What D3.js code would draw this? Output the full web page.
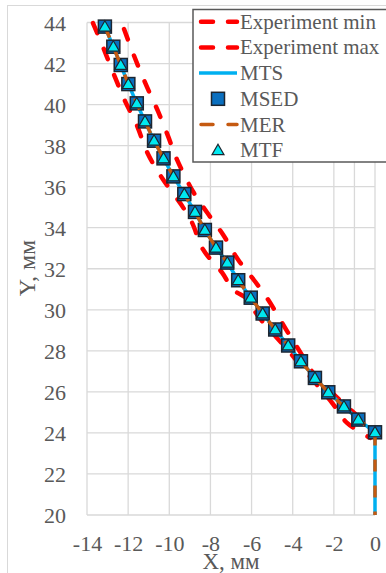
<!DOCTYPE html>
<html>
<head>
<meta charset="utf-8">
<script src="https://cdn.jsdelivr.net/npm/d3@7"></script>
<style>
  body { margin: 0; background: #fff; }
  svg text { font-family: "Liberation Serif", "DejaVu Serif", serif; fill: #595959; }
</style>
</head>
<body>
<div id="chart"></div>
<script>
// data
var xTicks = [-14, -12, -10, -8, -6, -4, -2, 0];
var yTicks = [20, 22, 24, 26, 28, 30, 32, 34, 36, 38, 40, 42, 44];

var expMinX = [-13.71, -13.22, -12.64, -12.15, -11.62, -11.03, -10.31, -9.43, -8.90, -8.36, -7.44, -6.90, -6.17, -5.74, -4.13, -3.65, -2.09, -1.36, -0.24];
var expMinY = [43.97, 42.80, 41.34, 40.17, 39.10, 37.58, 36.36, 35.14, 34.26, 32.94, 31.82, 30.99, 30.50, 29.77, 27.91, 27.32, 25.47, 24.49, 23.76];

var expMaxX = [-12.20, -11.67, -11.08, -10.55, -10.06, -9.63, -8.85, -8.17, -7.39, -6.66, -5.83, -5.20, -4.23, -3.65, -3.01, -2.14, -1.41, -0.68, 0];
var expMaxY = [43.68, 42.27, 40.85, 39.68, 38.46, 37.33, 35.77, 34.75, 33.67, 32.45, 31.38, 30.50, 28.89, 27.96, 26.93, 26.01, 25.32, 24.69, 24.05];

var modelX = [-13.13, -12.72, -12.36, -11.99, -11.58, -11.18, -10.74, -10.28, -9.80, -9.27, -8.75, -8.27, -7.73, -7.18, -6.65, -6.04, -5.46, -4.85, -4.22, -3.60, -2.92, -2.27, -1.51, -0.81, 0];
var modelY = [43.80, 42.82, 41.93, 41.00, 40.06, 39.18, 38.24, 37.38, 36.50, 35.64, 34.77, 33.89, 33.03, 32.30, 31.44, 30.59, 29.82, 29.04, 28.26, 27.49, 26.68, 25.98, 25.29, 24.65, 24.03];

// MTS and MER lines continue straight down to Y = 20
var lineX = modelX.concat([0]);
var lineY = modelY.concat([20]);

var legendNames = ["Experiment min", "Experiment max", "MTS", "MSED", "MER", "MTF"];

var svgWidth = 386, svgHeight = 573;
var svg = d3.select("#chart").append("svg")
  .attr("width", svgWidth)
  .attr("height", svgHeight);

// outer chart frame
svg.append("rect")
  .attr("x", 7.5).attr("y", 5.5)
  .attr("width", 400).attr("height", 600)
  .attr("fill", "none").attr("stroke", "#d9d9d9");

var x = d3.scaleLinear().domain([-14, 0]).range([87, 375]);
var y = d3.scaleLinear().domain([20, 44]).range([515, 22.5]);

// grid
var grid = svg.append("g");
grid.selectAll(".vg")
  .data(xTicks.concat([-1]))
  .enter().append("line")
  .attr("x1", d => x(d)).attr("x2", d => x(d))
  .attr("y1", y(20)).attr("y2", y(44))
  .attr("stroke", "#d9d9d9").attr("stroke-width", 1.3);
grid.selectAll(".hg")
  .data(yTicks)
  .enter().append("line")
  .attr("x1", x(-14)).attr("x2", x(0))
  .attr("y1", d => y(d)).attr("y2", d => y(d))
  .attr("stroke", "#d9d9d9").attr("stroke-width", 1.3);

// axes (labels only)
var bottomAxis = d3.axisBottom(x).tickValues(xTicks).tickSize(0).tickPadding(0)
  .tickFormat(d => d < 0 ? "-" + Math.abs(d) : d);
var leftAxis = d3.axisLeft(y).tickValues(yTicks).tickSize(0).tickPadding(0);

var gx = svg.append("g").attr("transform", "translate(0,551)").call(bottomAxis);
var gy = svg.append("g").attr("transform", "translate(66,0)").call(leftAxis);
[gx, gy].forEach(function (g) {
  g.select(".domain").remove();
  g.selectAll("text")
    .attr("font-family", "Liberation Serif")
    .attr("font-size", 22)
    .attr("fill", "#595959");
});
gx.selectAll("text").attr("dy", "0").attr("y", 0);
gy.selectAll("text").attr("dy", "0.35em");

// axis titles
svg.append("text")
  .attr("x", 231).attr("y", 569)
  .attr("text-anchor", "middle")
  .attr("font-size", 23)
  .text("X, мм");
svg.append("text")
  .attr("transform", "translate(35,268) rotate(-90)")
  .attr("text-anchor", "middle")
  .attr("font-size", 24)
  .text("Y, мм");

function pts(xs, ys) { return xs.map((v, i) => [v, ys[i]]); }

var smooth = d3.line().x(d => x(d[0])).y(d => y(d[1])).curve(d3.curveCatmullRom);
var straight = d3.line().x(d => x(d[0])).y(d => y(d[1]));

var plot = svg.append("g");

// Experiment min / max
[[expMinX, expMinY], [expMaxX, expMaxY]].forEach(function (s) {
  plot.append("path")
    .attr("d", smooth(pts(s[0], s[1])))
    .attr("fill", "none")
    .attr("stroke", "#ff0000")
    .attr("stroke-width", 4.5)
    .attr("stroke-linecap", "round")
    .attr("stroke-dasharray", "11,17");
});

// MTS
plot.append("path")
  .attr("d", straight(pts(lineX, lineY)))
  .attr("fill", "none")
  .attr("stroke", "#00b0f0")
  .attr("stroke-width", 3.5);

// MSED
plot.selectAll(".sq")
  .data(pts(modelX, modelY))
  .enter().append("rect")
  .attr("x", d => x(d[0]) - 6.5)
  .attr("y", d => y(d[1]) - 6.5)
  .attr("width", 13).attr("height", 13)
  .attr("fill", "#0a6fbf")
  .attr("stroke", "#1c2530")
  .attr("stroke-width", 1.5);

// MER
plot.append("path")
  .attr("d", straight(pts(lineX, lineY)))
  .attr("fill", "none")
  .attr("stroke", "#c55a11")
  .attr("stroke-width", 3.5)
  .attr("stroke-dasharray", "12,14");

// MTF
var tri = d3.symbol().type(d3.symbolTriangle).size(62);
plot.selectAll(".tr")
  .data(pts(modelX, modelY))
  .enter().append("path")
  .attr("d", tri)
  .attr("transform", d => `translate(${x(d[0])},${y(d[1]) + 1})`)
  .attr("fill", "#00e8f0")
  .attr("stroke", "#1c2530")
  .attr("stroke-width", 1.2);

// legend
var lg = svg.append("g");
lg.append("rect")
  .attr("x", 193).attr("y", 9.5)
  .attr("width", 200).attr("height", 152.5)
  .attr("fill", "#fff")
  .attr("stroke", "#595959")
  .attr("stroke-width", 1.5);

var rowY = d => 21.7 + d * 25.7;
legendNames.forEach(function (name, i) {
  var cy = rowY(i);
  if (i < 2 || i === 4) {
    lg.append("line")
      .attr("x1", 201).attr("x2", 237).attr("y1", cy).attr("y2", cy)
      .attr("stroke", i === 4 ? "#c55a11" : "#ff0000")
      .attr("stroke-width", i === 4 ? 3.5 : 4.5)
      .attr("stroke-linecap", "round")
      .attr("stroke-dasharray", "12,15");
  } else if (i === 2) {
    lg.append("line")
      .attr("x1", 199).attr("x2", 237).attr("y1", cy).attr("y2", cy)
      .attr("stroke", "#00b0f0").attr("stroke-width", 3.5);
  } else if (i === 3) {
    lg.append("rect")
      .attr("x", 218 - 6.5).attr("y", cy - 6.5)
      .attr("width", 13).attr("height", 13)
      .attr("fill", "#0a6fbf").attr("stroke", "#1c2530").attr("stroke-width", 1.5);
  } else {
    lg.append("path")
      .attr("d", tri())
      .attr("transform", `translate(218,${cy + 1})`)
      .attr("fill", "#00e8f0").attr("stroke", "#1c2530").attr("stroke-width", 1.2);
  }
  lg.append("text")
    .attr("x", 240).attr("y", cy + 7)
    .attr("font-size", 21)
    .text(name);
});
</script>
</body>
</html>
